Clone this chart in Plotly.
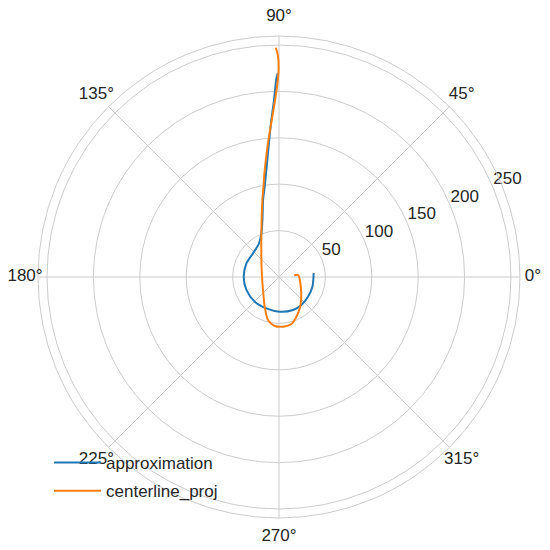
import math
import plotly.graph_objects as go

# approximation curve (theta in degrees, r in data units)
approx_theta = [6.6, -16.2, -34.2, -51.3, -67.0, -88.8, -111.9, -134.5, -158.3, -180.5,
                157.2, 137.6, 120.7, 111.9, 106.2, 101.7, 99.0, 95.1, 92.8, 91.7, 90.75, 90.3]
approx_r = [37.6, 37.5, 37.8, 38.6, 38.6, 37.4, 36.4, 37.3, 37.8, 38.0,
            38.1, 37.9, 42.2, 50.8, 64.0, 84.7, 98.5, 133.8, 169.4, 189.0, 214.1, 219.8]

# centerline_proj curve
center_theta = [5.6, 5.9, -16.4, -36.3, -54.5, -66.3, -75.2, -85.4, -95.0, -104.3, -115.7,
                -140.9, -181.0, 136.0, 111.8, 102.2, 100.3, 97.6, 94.7, 92.4, 91.0, 90.3,
                90.1, 90.3, 90.8]
center_r = [16.5, 20.8, 24.0, 29.7, 39.3, 46.7, 52.4, 53.7, 53.0, 47.8, 35.5,
            22.2, 18.3, 26.4, 51.1, 84.9, 95.3, 116.3, 144.9, 172.6, 196.1, 214.1,
            224.9, 239.2, 247.1]

angle_ticks = [0, 45, 90, 135, 180, 225, 270, 315]
angle_labels = [f"{a}°" for a in angle_ticks]
radial_ticks = [50, 100, 150, 200, 250]
radial_labels = [str(v) for v in radial_ticks]
radial_label_angle = 22.5
radial_max = 259.7

# geometry of the overlay that carries the angular labels (label ring outside the plot circle)
LABEL_RING_MAX = 268.0     # overlay radius (px units)
PLOT_RADIUS_FRAC = 241.0 / 268.0
LABEL_PAD_H = 254.0        # ring radius for side labels
LABEL_PAD_V = 260.0        # ring radius for top/bottom labels
label_ring = [LABEL_PAD_H + (LABEL_PAD_V - LABEL_PAD_H) * abs(math.sin(math.radians(a)))
              for a in angle_ticks]

TEXT = "#262626"
GRID = "#cccccc"
FONT = "Liberation Sans, Arial, sans-serif"

half = PLOT_RADIUS_FRAC / 2
main_domain = [0.5 - half, 0.5 + half]

fig = go.Figure()
fig.add_trace(go.Scatterpolar(r=approx_r, theta=approx_theta, mode="lines",
                              name="approximation", legendgroup="a",
                              line=dict(color="#1f77b4", width=2, shape="spline", smoothing=0.8)))
fig.add_trace(go.Scatterpolar(r=center_r, theta=center_theta, mode="lines",
                              name="centerline_proj", legendgroup="b",
                              line=dict(color="#ff7f0e", width=2, shape="spline", smoothing=0.8)))
# radial tick labels, matplotlib-style (anchored bottom-left of the tick position)
fig.add_trace(go.Scatterpolar(r=radial_ticks, theta=[radial_label_angle] * len(radial_ticks),
                              mode="text", text=radial_labels, textposition="top right",
                              textfont=dict(family=FONT, size=17, color=TEXT),
                              showlegend=False, hoverinfo="skip", cliponaxis=False))
# angular tick labels, centred on a ring just outside the outer circle
fig.add_trace(go.Scatterpolar(r=label_ring, theta=angle_ticks,
                              mode="text", text=angle_labels, textposition="middle center",
                              textfont=dict(family=FONT, size=17, color=TEXT),
                              showlegend=False, hoverinfo="skip", cliponaxis=False,
                              subplot="polar2"))

hidden_axis = dict(showgrid=False, showline=False, showticklabels=False, ticks="")

fig.update_layout(
    width=550, height=550,
    margin=dict(l=3, r=11, t=1, b=13, autoexpand=False),
    paper_bgcolor="white",
    font=dict(family=FONT, size=17, color=TEXT),
    showlegend=True,
    legend=dict(x=0.0709, y=0.1866, xanchor="left", yanchor="top", itemwidth=47,
                tracegroupgap=3,
                bgcolor="rgba(0,0,0,0)", font=dict(size=17, color=TEXT)),
    polar=dict(
        bgcolor="white",
        domain=dict(x=main_domain, y=main_domain),
        angularaxis=dict(
            rotation=0, direction="counterclockwise",
            tickmode="array", tickvals=angle_ticks, showticklabels=False,
            showgrid=True, gridcolor=GRID, gridwidth=1,
            showline=True, linecolor=GRID, linewidth=1, ticks="",
        ),
        radialaxis=dict(
            range=[0, radial_max], angle=radial_label_angle,
            tickmode="array", tickvals=radial_ticks, showticklabels=False,
            showgrid=True, gridcolor=GRID, gridwidth=1,
            showline=False, ticks="",
        ),
    ),
    polar2=dict(
        bgcolor="rgba(0,0,0,0)",
        domain=dict(x=[0, 1], y=[0, 1]),
        angularaxis=dict(rotation=0, direction="counterclockwise", **hidden_axis),
        radialaxis=dict(range=[0, LABEL_RING_MAX], **hidden_axis),
    ),
)

fig.write_html("out.html")
